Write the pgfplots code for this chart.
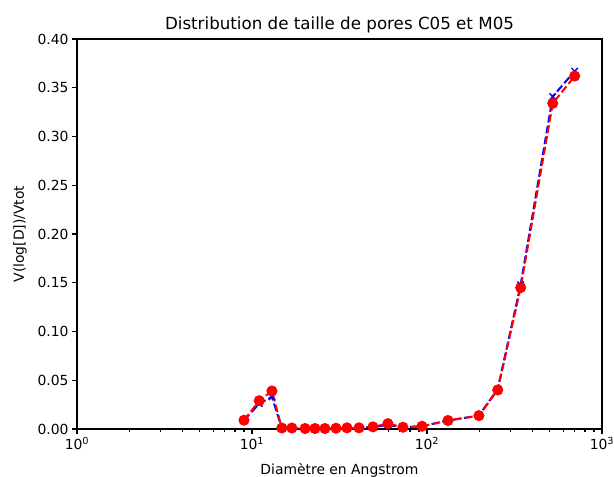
\documentclass[border=0pt]{standalone}
\usepackage{pgfplots}
\pgfplotsset{compat=1.18}
\usepackage{fontspec}
\setmainfont{DejaVu Sans}

\begin{document}
\begin{tikzpicture}[x=1pt,y=1pt]
\useasboundingbox (0,0) rectangle (614,477);
\clip (0,0) rectangle (614,477);
\begin{axis}[
    at={(77pt,48pt)}, anchor=south west,
    scale only axis,
    width=525pt, height=390pt,
    xmode=log,
    xmin=1, xmax=1000,
    ymin=0, ymax=0.40,
    xtick={1,10,100,1000},
    xticklabels={10\textsuperscript{0},10\textsuperscript{1},10\textsuperscript{2},10\textsuperscript{3}},
    ytick={0,0.05,0.10,0.15,0.20,0.25,0.30,0.35,0.40},
    yticklabel style={/pgf/number format/.cd, fixed, fixed zerofill, precision=2, assume math mode=true},
    tick label style={font=\fontsize{13.9}{16}\selectfont},
    tick align=outside,
    major tick length=4.9pt,
    minor tick length=2.8pt,
    tick style={black, line width=1.1pt},
    xtick pos=bottom, ytick pos=left,
    axis line style={line width=1.1pt},
    title={Distribution de taille de pores C05 et M05},
    title style={font=\fontsize{16.7}{19}\selectfont, yshift=-4pt},
    xlabel={Diamètre en Angstrom},
    ylabel={V(log[D])/Vtot},
    label style={font=\fontsize{13.9}{16}\selectfont},
    xlabel style={yshift=-6pt},
    ylabel style={yshift=4pt},
    clip=false,
]
\addplot[blue, line width=2pt, dash pattern=on 7.7pt off 3.3pt,
    mark=x, mark size=4.5pt, mark options={solid, line width=1.4pt}] coordinates {
    (9.0,0.009) (11.0,0.026) (13.0,0.033) (14.8,0.001) (16.9,0.001)
    (20.1,0.0005) (22.9,0.0005) (26.1,0.0005) (30.2,0.0008) (34.9,0.0012)
    (40.9,0.0012) (49.1,0.0022) (59.8,0.004) (72.9,0.0018) (93.6,0.0028)
    (131.8,0.0087) (198,0.0137) (253.6,0.041) (343,0.148) (523,0.341) (698,0.367)
};
\addplot[red, line width=2pt, dash pattern=on 7.7pt off 3.3pt,
    mark=*, mark size=4.5pt, mark options={solid, fill=red, draw=red}] coordinates {
    (9.0,0.009) (11.0,0.029) (13.0,0.039) (14.8,0.001) (16.9,0.001)
    (20.1,0.0005) (22.9,0.0005) (26.1,0.0005) (30.2,0.0008) (34.9,0.0012)
    (40.9,0.0012) (49.1,0.0022) (59.8,0.0055) (72.9,0.0018) (93.6,0.0028)
    (131.8,0.0087) (198,0.0137) (253.6,0.040) (343,0.145) (523,0.334) (698,0.362)
};
\end{axis}
\end{tikzpicture}
\end{document}
